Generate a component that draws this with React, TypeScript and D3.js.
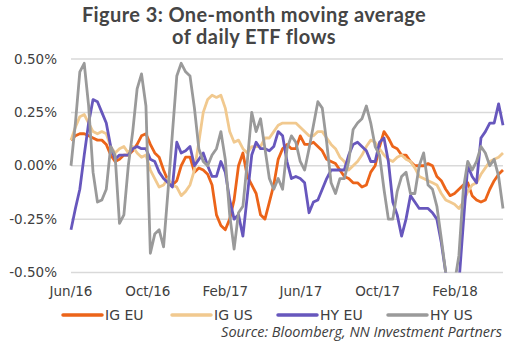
import React from 'react';
import * as d3 from 'd3';

// weekly samples starting 1 Jun 2016 (one-month moving average, % of AUM)
const startDate = new Date(2016, 5, 1);

const igEU = [
  0.12, 0.14, 0.15, 0.15, 0.14, 0.13, 0.12, 0.12, 0.10, 0.05, 0.02, 0.03, 0.05, 0.05, 0.07, 0.10, 0.14, 0.15, 0.10, 0.06, 0.04, -0.02, -0.07, -0.09,
  -0.07, 0.0, 0.04, 0.04, -0.03, -0.01, -0.02, -0.04, -0.09, -0.23, -0.28, -0.30, -0.25, -0.16, 0.0, 0.06, -0.05, -0.09, -0.13, -0.23, -0.25, -0.17, -0.09, 0.03,
  0.08, 0.10, 0.08, 0.08, 0.14, 0.10, 0.10, 0.11, 0.09, 0.07, 0.03, 0.02, 0.01, -0.02, -0.05, -0.06, -0.08, -0.08, -0.10, -0.09, -0.03, 0.0, 0.09, 0.16, 0.13, 0.09,
  0.08, 0.05, 0.05, 0.02, 0.0, 0.0, 0.0, 0.01, 0.0, -0.05, -0.07, -0.11, -0.14, -0.13, -0.11, -0.09, -0.08, -0.14, -0.16, -0.17, -0.16, -0.11, -0.07, -0.04, -0.02,
];

const igUS = [
  0.12, 0.18, 0.23, 0.24, 0.20, 0.16, 0.15, 0.16, 0.15, 0.09, 0.06, 0.08, 0.09, 0.06, 0.09, 0.06, 0.04, 0.05, -0.02, -0.06, -0.10, -0.09, -0.06, -0.09,
  -0.10, -0.14, -0.12, -0.09, -0.02, 0.11, 0.25, 0.31, 0.33, 0.32, 0.33, 0.27, 0.16, 0.11, 0.12, 0.08, 0.06, 0.09, 0.09, 0.09, 0.13, 0.13, 0.16, 0.19,
  0.20, 0.20, 0.20, 0.20, 0.18, 0.16, 0.14, 0.14, 0.16, 0.16, 0.13, 0.10, 0.08, 0.04, 0.02, -0.02, 0.0, 0.02, 0.05, 0.09, 0.12, 0.11, 0.08, 0.05, 0.03, 0.02,
  0.04, 0.05, 0.03, 0.02, -0.01, -0.05, -0.06, -0.07, -0.08, -0.09, -0.13, -0.16, -0.17, -0.18, -0.20, -0.17, -0.12, -0.09, -0.08, -0.04, -0.01, 0.02, 0.03, 0.04, 0.06,
];

const hyEU = [
  -0.30, -0.20, -0.11, 0.05, 0.20, 0.31, 0.30, 0.25, 0.20, 0.09, 0.03, 0.05, 0.05, 0.05, 0.08, 0.09, 0.08, 0.08, 0.03, 0.02, -0.03, -0.06, -0.08, -0.10,
  0.11, 0.06, 0.07, 0.09, 0.0, 0.03, 0.06, 0.0, -0.05, -0.05, 0.02, -0.03, -0.16, -0.25, -0.23, -0.33, -0.14, 0.05, 0.11, 0.08, 0.08, 0.07, 0.09, 0.16,
  0.14, 0.02, -0.06, -0.05, -0.06, -0.08, -0.22, -0.17, -0.16, -0.11, -0.06, -0.02, -0.02, -0.02, -0.02, 0.05, 0.10, 0.11, 0.09, 0.07, 0.02, 0.02, 0.11, 0.13, 0.02, -0.17,
  -0.23, -0.33, -0.25, -0.14, -0.17, -0.20, -0.20, -0.20, -0.22, -0.25, -0.36, -0.50, -0.61, -0.61, -0.55, -0.27, 0.0, -0.05, -0.08, 0.13, 0.16, 0.20, 0.20, 0.29, 0.19,
];

const hyUS = [
  0.0, 0.20, 0.44, 0.48, 0.28, -0.03, -0.17, -0.16, -0.11, 0.09, 0.05, -0.27, -0.23, 0.0, 0.16, 0.36, 0.43, 0.28, -0.41, -0.32, -0.30, -0.38, -0.12, 0.15,
  0.42, 0.48, 0.44, 0.42, 0.27, 0.08, 0.02, 0.0, 0.05, 0.08, 0.16, 0.03, -0.23, -0.39, -0.22, -0.19, 0.02, 0.25, 0.16, 0.22, 0.08, -0.06, -0.11, -0.06,
  -0.11, 0.08, 0.14, 0.11, 0.02, -0.02, 0.08, 0.19, 0.30, 0.27, 0.11, -0.08, -0.13, -0.06, -0.06, 0.02, 0.17, 0.20, 0.22, 0.28, 0.20, 0.09, 0.05, -0.11, -0.25, -0.25,
  -0.12, -0.05, -0.03, -0.13, -0.13, 0.0, 0.06, -0.09, -0.11, -0.19, -0.34, -0.50, -0.58, -0.55, -0.42, -0.11, 0.02, -0.02, 0.02, 0.09, 0.06, 0.0, 0.03, -0.05, -0.20,
];

const seriesNames = ['IG EU', 'IG US', 'HY EU', 'HY US'];
const seriesValues = [igEU, igUS, hyEU, hyUS];
const colors = ['#ec6419', '#f1c98f', '#6757bd', '#9a9a9a'];

const yTicks = [0.5, 0.25, 0, -0.25, -0.5];
const xTicks = ['2016-06-01', '2016-10-01', '2017-02-01', '2017-06-01', '2017-10-01', '2018-02-01'];

const W = 521;
const H = 350;
const plot = { left: 71, right: 503, top: 59, bottom: 272.5 };
const labelFont = 'DejaVu Sans, Verdana, sans-serif';
const textColor = '#404040';

export default function App() {
  const x = d3.scaleTime()
    .domain([startDate, new Date(2018, 3, 18)])
    .range([plot.left, plot.right]);
  const y = d3.scaleLinear()
    .domain([-0.5, 0.5])
    .range([plot.bottom, plot.top]);

  const dates = igEU.map((_, i) => d3.timeWeek.offset(startDate, i));
  const line = d3.line<number>()
    .x((_, i) => x(dates[i]))
    .y(d => y(d));

  const fmtX = d3.timeFormat('%b/%y');
  const fmtY = (v: number) => `${v.toFixed(2)}%`;

  const legendX = [63, 172, 278, 388];

  return (
    <svg width={W} height={H} style={{ position: 'absolute', left: 0, top: 0, background: '#fff' }}>
      <defs>
        <clipPath id="plot-clip">
          <rect x={plot.left - 2} y={40} width={plot.right - plot.left + 6} height={plot.bottom - 40} />
        </clipPath>
      </defs>

      {/* title */}
      <g fontFamily="Lato, Open Sans, sans-serif" fontWeight={700} fontSize={20} fill="#454545" textAnchor="middle">
        <text x={254} y={22} letterSpacing={0.4}>Figure 3: One-month moving average</text>
        <text x={254} y={44} letterSpacing={0.4}>of daily ETF flows</text>
      </g>

      {/* gridlines + y labels */}
      {yTicks.map(t => (
        <g key={t}>
          <line x1={plot.left} x2={plot.right} y1={y(t)} y2={y(t)} stroke="#d9d9d9" strokeWidth={1.5} />
          <text x={57} y={y(t)} dy="0.35em" textAnchor="end" fontFamily={labelFont} fontSize={13.5} fill={textColor}>
            {fmtY(t)}
          </text>
        </g>
      ))}

      {/* x labels */}
      {xTicks.map(s => {
        const d = d3.timeParse('%Y-%m-%d')(s)!;
        return (
          <text key={s} x={x(d)} y={291} dy="0.35em" textAnchor="middle" fontFamily={labelFont} fontSize={13.5} fill={textColor}>
            {fmtX(d)}
          </text>
        );
      })}

      {/* lines */}
      <g clipPath="url(#plot-clip)">
        {seriesValues.map((vals, k) => (
          <path key={seriesNames[k]} d={line(vals) || ''} fill="none" stroke={colors[k]} strokeWidth={2.8} strokeLinejoin="round" />
        ))}
      </g>

      {/* legend */}
      {seriesNames.map((name, k) => (
        <g key={name} transform={`translate(${legendX[k]},315)`}>
          <line x1={0} x2={39} y1={0} y2={0} stroke={colors[k]} strokeWidth={3.5} strokeLinecap="round" />
          <text x={42} y={0} dy="0.35em" fontFamily={labelFont} fontSize={14} fill={textColor}>{name}</text>
        </g>
      ))}

      <text x={502} y={332} dy="0.35em" textAnchor="end" fontFamily="Open Sans, sans-serif" fontStyle="italic" fontSize={14.5} fill={textColor}>
        Source: Bloomberg, NN Investment Partners
      </text>
    </svg>
  );
}
